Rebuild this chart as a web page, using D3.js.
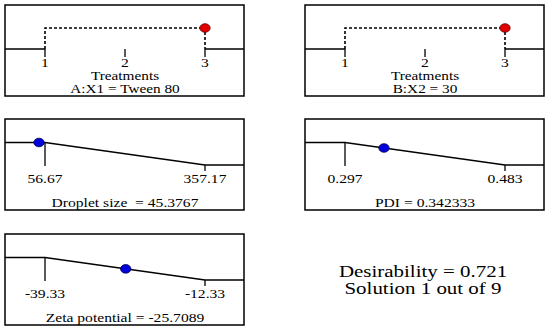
<!DOCTYPE html>
<html><head><meta charset="utf-8">
<script src="https://cdn.jsdelivr.net/npm/d3@7"></script>
<style>
html,body{margin:0;padding:0;background:#fff;}
svg{display:block;}
text{font-family:"Liberation Serif","Times New Roman",serif;fill:#000;white-space:pre;}
</style></head>
<body>
<svg id="chart" width="550" height="330"></svg>
<script>
// ---- data ----
const factorNames = ["A:X1 = Tween 80", "B:X2 = 30"];
const factorAxisTitle = "Treatments";
const factorLevels = [1, 2, 3];
const factorValues = [3, 3];

const responseNames = ["Droplet size ", "PDI", "Zeta potential"];
const responseLow = [56.67, 0.297, -39.33];
const responseHigh = [357.17, 0.483, -12.33];
const responseLowLabels = ["56.67", "0.297", "-39.33"];
const responseHighLabels = ["357.17", "0.483", "-12.33"];
const responseValues = [45.3767, 0.342333, -25.7089];
const responseValueLabels = ["45.3767", "0.342333", "-25.7089"];

const desirability = 0.721;
const solutionIndex = 1;
const solutionCount = 9;

// ---- layout ----
const svg = d3.select("#chart");
const panelW = 239, panelH = 91;
const panelPos = [
  {x: 5, y: 5}, {x: 305, y: 5},
  {x: 5, y: 119}, {x: 305, y: 119},
  {x: 5, y: 234}
];

function label(g, x, y, txt, size, sx) {
  g.append("text")
    .attr("transform", `translate(${x},${y}) scale(${sx || 1.3},1)`)
    .attr("text-anchor", "middle")
    .attr("font-size", size || 12)
    .text(txt);
}

function box(g) {
  g.append("rect").attr("x", 0).attr("y", 0).attr("width", panelW).attr("height", panelH)
    .attr("fill", "none").attr("stroke", "#000").attr("stroke-width", 1.5);
}

// factor panels
factorNames.forEach((name, i) => {
  const p = panelPos[i];
  const g = svg.append("g").attr("transform", `translate(${p.x},${p.y})`);
  box(g);
  const x = d3.scaleLinear().domain(d3.extent(factorLevels)).range([40, 200]);
  const yLine = 44, yTop = 23, yTick = 52;
  const lo = d3.min(factorLevels), hi = d3.max(factorLevels);
  g.append("line").attr("x1", 0).attr("x2", x(lo)).attr("y1", yLine).attr("y2", yLine)
    .attr("stroke", "#000").attr("stroke-width", 1.3);
  g.append("line").attr("x1", x(hi)).attr("x2", panelW).attr("y1", yLine).attr("y2", yLine)
    .attr("stroke", "#000").attr("stroke-width", 1.3);
  g.append("path")
    .attr("d", `M${x(lo)},${yLine} V${yTop} H${x(factorValues[i])} V${yLine}`)
    .attr("fill", "none").attr("stroke", "#000").attr("stroke-width", 1.6)
    .attr("stroke-dasharray", "3,2");
  factorLevels.forEach(l => {
    g.append("line").attr("x1", x(l)).attr("x2", x(l)).attr("y1", yLine).attr("y2", yTick)
      .attr("stroke", "#000").attr("stroke-width", 1.3);
    label(g, x(l), 62, String(l));
  });
  label(g, 120, 74.5, factorAxisTitle, 11.5, 1.33);
  label(g, 120, 88, name, 11.5, 1.33);
  g.append("ellipse").attr("cx", x(factorValues[i])).attr("cy", yTop)
    .attr("rx", 5.2).attr("ry", 4.3)
    .attr("fill", "#e00000").attr("stroke", "#600").attr("stroke-width", 0.8);
});

// response panels
responseNames.forEach((name, i) => {
  const p = panelPos[i + 2];
  const g = svg.append("g").attr("transform", `translate(${p.x},${p.y})`);
  box(g);
  const x = d3.scaleLinear().domain([responseLow[i], responseHigh[i]]).range([40, 200]);
  const y = d3.scaleLinear().domain([responseLow[i], responseHigh[i]]).range([23.5, 46]).clamp(true);
  const pts = [[0, y(responseLow[i])], [x(responseLow[i]), y(responseLow[i])],
               [x(responseHigh[i]), y(responseHigh[i])], [panelW, y(responseHigh[i])]];
  g.append("path").attr("d", d3.line()(pts))
    .attr("fill", "none").attr("stroke", "#000").attr("stroke-width", 1.3);
  g.append("line").attr("x1", x(responseLow[i])).attr("x2", x(responseLow[i]))
    .attr("y1", y(responseLow[i])).attr("y2", 47)
    .attr("stroke", "#000").attr("stroke-width", 1.3);
  g.append("line").attr("x1", x(responseHigh[i])).attr("x2", x(responseHigh[i]))
    .attr("y1", y(responseHigh[i])).attr("y2", 52)
    .attr("stroke", "#000").attr("stroke-width", 1.3);
  label(g, x(responseLow[i]), 63.5, responseLowLabels[i]);
  label(g, x(responseHigh[i]), 63.5, responseHighLabels[i]);
  label(g, 120, 87.5, name + " = " + responseValueLabels[i]);
  const v = responseValues[i];
  g.append("ellipse").attr("cx", Math.max(x(v), 0)).attr("cy", y(v))
    .attr("rx", 5.2).attr("ry", 4.3)
    .attr("fill", "#0000dd").attr("stroke", "#000050").attr("stroke-width", 0.8);
});

// desirability text
const dg = svg.append("g");
label(dg, 423, 277, "Desirability = " + desirability.toFixed(3), 16.5, 1.27);
label(dg, 423, 294, `Solution ${solutionIndex} out of ${solutionCount}`, 16.5, 1.27);
</script>
</body></html>
